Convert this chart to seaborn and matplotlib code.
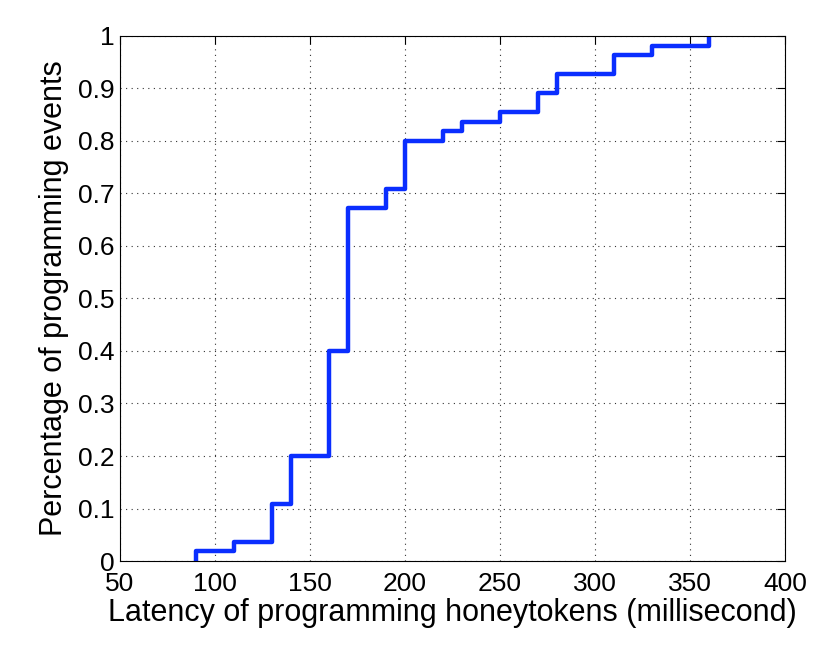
import numpy as np
import pandas as pd
import seaborn as sns
import matplotlib.pyplot as plt

# latency steps (ms) and cumulative fraction of programming events (n = 55)
latency = [90, 90, 110, 130, 140, 160, 170, 190, 200, 220, 230, 250, 270, 280, 310, 330, 360]
events = [0, 1, 2, 6, 11, 22, 37, 39, 44, 45, 46, 47, 49, 51, 53, 54, 55]
total_events = 55

df = pd.DataFrame({'latency': latency, 'frac': np.array(events) / total_events})

sns.set_style('white')
plt.rcParams['font.family'] = ['Liberation Sans', 'DejaVu Sans']
plt.rcParams['text.color'] = 'black'
plt.rcParams['axes.labelcolor'] = 'black'
plt.rcParams['xtick.color'] = 'black'
plt.rcParams['ytick.color'] = 'black'

fig = plt.figure(figsize=(8.31, 6.59), dpi=100)
ax = fig.add_axes([0.1444, 0.1487, 0.8002, 0.7967])

sns.lineplot(data=df, x='latency', y='frac', drawstyle='steps-post', sort=False,
             estimator=None, color='#0a2eff', linewidth=3.2, ax=ax)

ax.set_xlim(50, 400)
ax.set_ylim(0, 1)
ax.set_xticks(np.arange(50, 401, 50))
ax.set_yticks(np.arange(0, 1.01, 0.1))
ax.set_yticklabels(['0', '0.1', '0.2', '0.3', '0.4', '0.5', '0.6', '0.7', '0.8', '0.9', '1'])
ax.grid(True, linestyle=(0, (1, 4)), color='#333333', linewidth=0.8)
ax.tick_params(direction='in', top=True, right=True, labelsize=19, length=6, width=0.8)
ax.tick_params(axis='x', pad=8)
ax.tick_params(axis='y', pad=4)
for s in ax.spines.values():
    s.set_color('black')
    s.set_linewidth(0.8)

ax.set_xlabel('Latency of programming honeytokens (millisecond)', fontsize=22, labelpad=1)
ax.set_ylabel('Percentage of programming events', fontsize=22, labelpad=6)

fig.savefig('out.png', dpi=100)
